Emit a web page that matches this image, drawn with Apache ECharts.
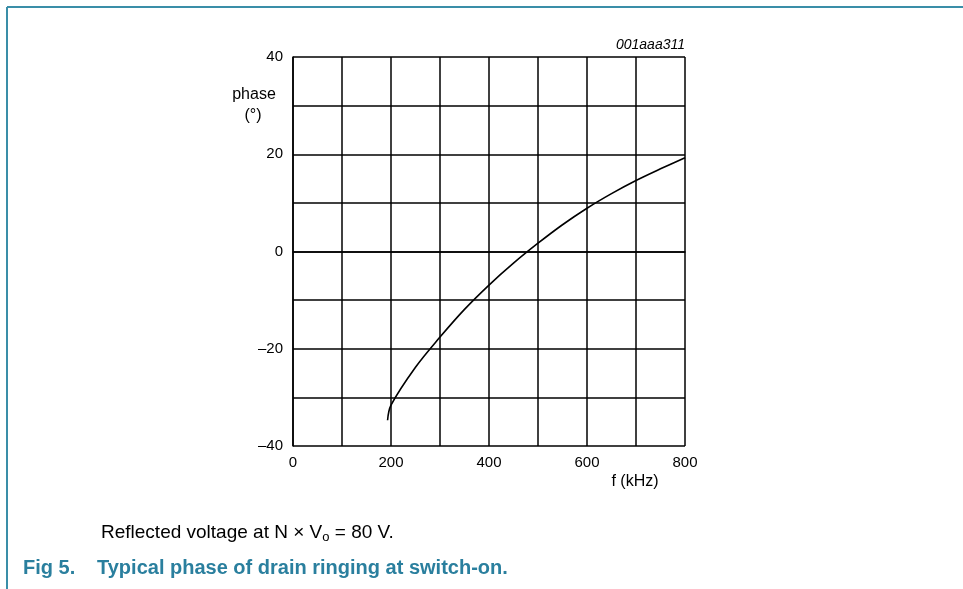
<!DOCTYPE html>
<html>
<head>
<meta charset="utf-8">
<script src="https://cdn.jsdelivr.net/npm/echarts@6/dist/echarts.min.js"></script>
<style>
  html, body { margin: 0; padding: 0; background: #fff; }
  #main { width: 963px; height: 589px; }
</style>
</head>
<body>
<div id="main"></div>
<script>
// values
var freq  = [193, 200, 250, 300, 350, 400, 450, 500, 550, 600, 650, 700, 750, 800];
var phase = [-34.7, -31.6, -23.8, -17.6, -11.9, -6.9, -2.4, 1.7, 5.5, 8.9, 11.9, 14.6, 17.0, 19.3];
var xTicks = [0, 200, 400, 600, 800];
var yTicks = [-40, -20, 0, 20, 40];

var teal = '#3a8ea8';
var font = 'Liberation Sans, Arial, sans-serif';

var chart = echarts.init(document.getElementById('main'));

var option = {
  animation: false,
  grid: { left: 293, top: 57, width: 392, height: 389, show: false },
  xAxis: {
    type: 'value',
    min: 0, max: 800, interval: 100,
    axisLine: { show: true, lineStyle: { color: '#000', width: 1.5 } },
    axisTick: { show: false },
    splitLine: { show: true, lineStyle: { color: '#000', width: 1.5 } },
    axisLabel: {
      color: '#000', fontFamily: font, fontSize: 15, margin: 9,
      formatter: function (v) { return xTicks.indexOf(v) >= 0 ? String(v) : ''; }
    }
  },
  yAxis: {
    type: 'value',
    min: -40, max: 40, interval: 10,
    axisLine: { show: true, lineStyle: { color: '#000', width: 1.5 } },
    axisTick: { show: false },
    splitLine: { show: true, lineStyle: { color: '#000', width: 1.5 } },
    axisLabel: {
      color: '#000', fontFamily: font, fontSize: 15, margin: 10,
      formatter: function (v) {
        if (yTicks.indexOf(v) < 0) return '';
        return v < 0 ? '\u2013' + Math.abs(v) : String(v);
      }
    }
  },
  series: [{
    type: 'line',
    data: freq.map(function (f, i) { return [f, phase[i]]; }),
    smooth: 0.35,
    symbol: 'none',
    lineStyle: { color: '#000', width: 1.6 },
    z: 5
  }],
  graphic: [
    // frame lines
    { type: 'line', shape: { x1: 7, y1: 7, x2: 963, y2: 7 }, style: { stroke: teal, lineWidth: 2 } },
    { type: 'line', shape: { x1: 7, y1: 7, x2: 7, y2: 589 }, style: { stroke: teal, lineWidth: 2 } },
    // axis titles
    { type: 'text', x: 254, y: 95, style: { text: 'phase', font: '16px ' + font, fill: '#000', align: 'center', verticalAlign: 'middle' } },
    { type: 'text', x: 253, y: 116, style: { text: '(\u00b0)', font: '16px ' + font, fill: '#000', align: 'center', verticalAlign: 'middle' } },
    { type: 'text', x: 635, y: 482, style: { text: 'f (kHz)', font: '16px ' + font, fill: '#000', align: 'center', verticalAlign: 'middle' } },
    { type: 'text', x: 685, y: 45, style: { text: '001aaa311', font: 'italic 14px ' + font, fill: '#000', align: 'right', verticalAlign: 'middle' } },
    // caption
    {
      type: 'text', x: 101, y: 533,
      style: {
        text: '{a|Reflected voltage at N \u00d7 V}{s|o}{a| = 80 V.}',
        verticalAlign: 'middle',
        rich: {
          a: { fontFamily: font, fontSize: 19, fill: '#000', color: '#000' },
          s: { fontFamily: font, fontSize: 13, fill: '#000', color: '#000', padding: [8, 0, 0, 0] }
        }
      }
    },
    { type: 'text', x: 23, y: 568, style: { text: 'Fig 5.', font: 'bold 20px ' + font, fill: '#2a7f9e', verticalAlign: 'middle' } },
    { type: 'text', x: 97, y: 568, style: { text: 'Typical phase of drain ringing at switch-on.', font: 'bold 20px ' + font, fill: '#2a7f9e', verticalAlign: 'middle' } }
  ]
};

chart.setOption(option);
</script>
</body>
</html>
